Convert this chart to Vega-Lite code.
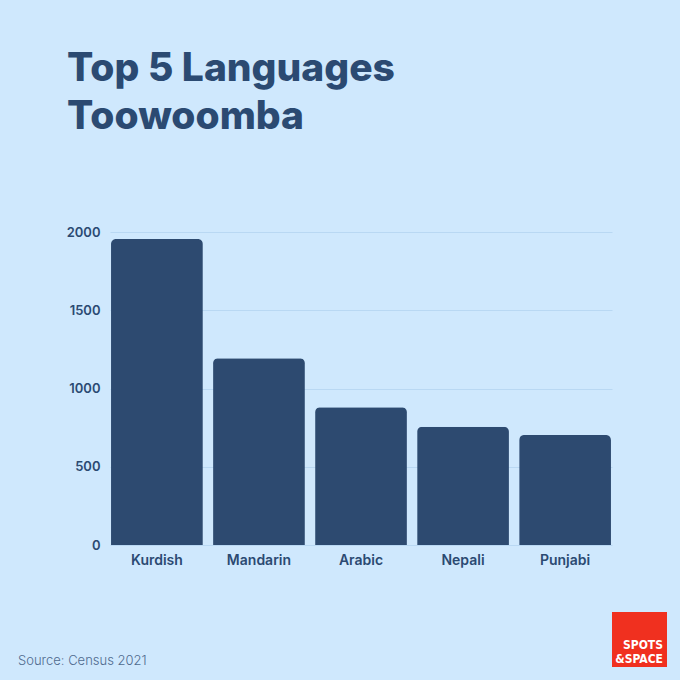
{
  "$schema": "https://vega.github.io/schema/vega-lite/v6.json",
  "background": "#cfe8fd",
  "padding": {"left": 18, "top": 50, "right": 13, "bottom": 13},
  "config": {"view": {"stroke": null}, "font": "Inter"},
  "spacing": 37,
  "vconcat": [
    {
      "width": 502,
      "height": 313,
      "title": {
        "text": ["Top 5 Languages", "Toowoomba"],
        "anchor": "start",
        "frame": "group",
        "dx": -43,
        "offset": 58,
        "baseline": "alphabetic",
        "font": "Inter",
        "fontSize": 39,
        "fontWeight": 800,
        "lineHeight": 48,
        "color": "#2b4a72"
      },
      "data": {
        "values": [
          {"language": "Kurdish", "speakers": 1955},
          {"language": "Mandarin", "speakers": 1193},
          {"language": "Arabic", "speakers": 880},
          {"language": "Nepali", "speakers": 756},
          {"language": "Punjabi", "speakers": 703}
        ]
      },
      "mark": {"type": "bar", "color": "#2d4a70", "cornerRadiusTopLeft": 5, "cornerRadiusTopRight": 5},
      "encoding": {
        "x": {
          "field": "language",
          "type": "nominal",
          "sort": null,
          "scale": {"paddingInner": 0.1, "paddingOuter": 0.01},
          "axis": {
            "title": null,
            "labelAngle": 0,
            "ticks": false,
            "domain": false,
            "labelFont": "Inter",
            "labelFontSize": 14,
            "labelFontWeight": 600,
            "labelColor": "#2b4a72",
            "labelPadding": 8,
            "minExtent": 30,
            "maxExtent": 30
          }
        },
        "y": {
          "field": "speakers",
          "type": "quantitative",
          "scale": {"domain": [0, 2000]},
          "axis": {
            "title": null,
            "values": [0, 500, 1000, 1500, 2000],
            "format": "d",
            "ticks": false,
            "domain": false,
            "grid": true,
            "gridColor": "#b9d8f3",
            "gridWidth": 1,
            "labelFont": "Inter",
            "labelFontSize": 13,
            "labelFontWeight": 600,
            "labelColor": "#2b4a72",
            "labelPadding": 10,
            "minExtent": 92,
            "maxExtent": 92
          }
        }
      }
    },
    {
      "spacing": 0,
      "hconcat": [
        {
          "width": 502,
          "height": 53,
          "data": {"values": [{"note": "Source: Census 2021"}]},
          "mark": {"type": "text", "align": "left", "baseline": "alphabetic", "dx": -92, "font": "Inter", "fontSize": 13, "fontWeight": 300, "color": "#4f6b8f"},
          "encoding": {
            "text": {"field": "note", "type": "nominal"},
            "x": {"datum": 0, "type": "quantitative", "scale": {"domain": [0, 1]}, "axis": null},
            "y": {"datum": 0, "type": "quantitative", "scale": {"domain": [0, 1]}, "axis": null}
          }
        },
        {
          "width": 55,
          "height": 55,
          "data": {"values": [{"brand": "SPOTS\n&SPACE"}]},
          "layer": [
            {"mark": {"type": "rect", "color": "#f0301f"}, "encoding": {}},
            {
              "mark": {"type": "text", "lineBreak": "\n", "align": "right", "baseline": "middle", "dx": 23.5, "dy": 5, "font": "'DejaVu Sans Condensed', Roboto, sans-serif", "fontSize": 12, "fontWeight": "bold", "lineHeight": 14.5, "color": "white"},
              "encoding": {"text": {"field": "brand", "type": "nominal"}}
            }
          ]
        }
      ]
    }
  ]
}
